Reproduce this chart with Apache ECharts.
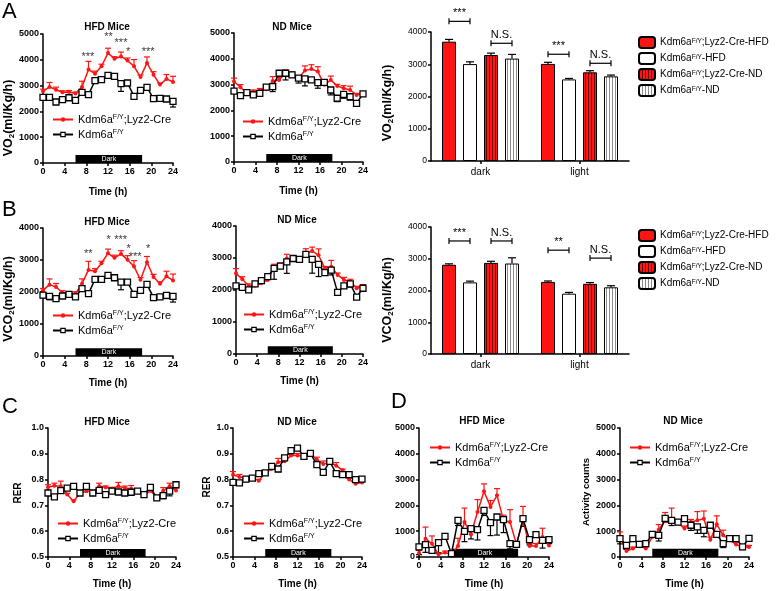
<!DOCTYPE html>
<html><head><meta charset="utf-8">
<script src="https://cdn.jsdelivr.net/npm/echarts@6/dist/echarts.min.js"></script>
<style>html,body{margin:0;padding:0;background:#fff}#c{width:778px;height:591px}</style>
</head><body><div id="c"></div>
<script>
// ---------------- DATA ----------------
const hours = [0,1.2,2.4,3.6,4.8,6,7.2,8.4,9.6,10.8,12,13.2,14.4,15.6,16.8,18,19.2,20.4,21.6,22.8,24];
const darkPeriod = [6, 18.3];
const creName = 'Kdm6aF/Y;Lyz2-Cre';
const ctrlName = 'Kdm6aF/Y';

// A: VO2 HFD
const vo2HfdCre = [2780,2950,2840,2740,2750,2690,2950,3620,3460,3750,4260,4040,4130,3970,3750,3330,3880,3420,3040,3260,3140];
const vo2HfdCreErr = [80,170,100,60,60,60,220,320,100,80,190,80,170,100,260,80,230,120,60,170,220];
const vo2HfdCtrl = [2545,2545,2365,2455,2530,2430,2740,2650,3190,3230,3400,3360,3075,3100,2585,2815,2935,2495,2505,2480,2390];
const vo2HfdCtrlErr = [80,80,60,60,60,60,80,60,60,60,60,60,300,60,60,80,60,60,60,60,220];
const vo2HfdStars = [[8.3,4110,'***'],[12.1,4880,'**'],[14.4,4650,'***'],[15.7,4300,'*'],[19.4,4300,'***']];
// A: VO2 ND
const vo2NdCre = [3120,2900,2660,2730,2790,2820,3140,3180,3470,3420,3250,3545,3600,3505,2990,3180,2950,2860,2790,2600,2660];
const vo2NdCreErr = [130,100,60,60,60,60,170,100,100,80,80,180,170,190,60,150,60,100,150,60,60];
const vo2NdCtrl = [2750,2570,2690,2600,2660,2900,2920,3440,3440,3380,3250,3220,3180,3080,3090,2790,2470,2620,2530,2270,2640];
const vo2NdCtrlErr = [80,60,60,60,60,80,190,60,260,100,190,270,80,220,60,190,130,150,130,100,80];
// B: VCO2 HFD
const vco2HfdCre = [2050,2230,2155,1980,1950,1950,2260,2690,2650,2900,3210,3070,3190,3005,2800,2380,2930,2470,2260,2490,2360];
const vco2HfdCreErr = [60,180,110,60,60,60,150,270,80,60,130,80,100,130,180,70,180,80,60,160,200];
const vco2HfdCtrl = [1900,1865,1795,1875,1925,1845,2105,1950,2395,2395,2520,2445,2310,2310,1925,2050,2240,1825,1845,1895,1865];
const vco2HfdCtrlErr = [80,110,60,60,60,60,60,60,60,60,60,60,240,60,60,60,60,60,60,100,180];
const vco2HfdStars = [[8.35,3190,'**'],[12.1,3625,'*'],[14.35,3625,'***'],[15.8,3345,'*'],[17.0,3095,'***'],[19.4,3345,'*']];
// B: VCO2 ND
const vco2NdCre = [2520,2335,2130,2130,2210,2315,2705,2745,2985,2930,2930,3140,3220,3085,2675,2725,2470,2315,2265,2055,2110];
const vco2NdCreErr = [150,80,60,60,60,60,100,100,130,60,60,150,120,200,60,200,60,80,70,60,60];
const vco2NdCtrl = [2130,2080,2005,2190,2295,2420,2675,2745,2880,2985,2955,3115,2955,2800,2540,2620,1925,2130,2190,1780,2055];
const vco2NdCtrlErr = [60,60,60,60,60,60,340,60,360,60,60,60,430,380,60,150,60,60,100,60,100];
// C: RER HFD
const rerHfdCre = [0.770,0.776,0.774,0.742,0.716,0.748,0.755,0.752,0.774,0.770,0.765,0.774,0.767,0.765,0.751,0.738,0.757,0.731,0.757,0.774,0.758];
const rerHfdCreErr = [0.01,0.01,0.02,0.005,0.005,0.005,0.005,0.005,0.012,0.005,0.005,0.015,0.008,0.012,0.005,0.005,0.005,0.005,0.012,0.012,0.01];
const rerHfdCtrl = [0.748,0.733,0.757,0.767,0.774,0.748,0.774,0.748,0.758,0.742,0.755,0.752,0.748,0.751,0.755,0.742,0.770,0.729,0.738,0.755,0.780];
const rerHfdCtrlErr = [0.008,0.005,0.005,0.005,0.005,0.005,0.005,0.005,0.005,0.005,0.005,0.005,0.005,0.005,0.005,0.005,0.005,0.008,0.012,0.018,0.005];
// C: RER ND
const rerNdCre = [0.819,0.810,0.806,0.806,0.796,0.826,0.841,0.867,0.871,0.893,0.893,0.890,0.900,0.877,0.860,0.867,0.854,0.836,0.800,0.784,0.789];
const rerNdCreErr = [0.012,0.01,0.005,0.005,0.005,0.005,0.008,0.015,0.008,0.005,0.008,0.005,0.005,0.01,0.012,0.005,0.012,0.005,0.005,0.005,0.005];
const rerNdCtrl = [0.789,0.787,0.802,0.806,0.823,0.826,0.851,0.841,0.884,0.912,0.922,0.890,0.902,0.858,0.828,0.871,0.823,0.819,0.819,0.800,0.802];
const rerNdCtrlErr = [0.005,0.005,0.01,0.005,0.008,0.005,0.005,0.01,0.005,0.005,0.005,0.005,0.005,0.008,0.01,0.005,0.005,0.005,0.005,0.005,0.005];
// D: Activity HFD
const actHfdCre = [155,710,515,105,170,105,425,1355,880,1745,2545,1940,2390,1420,1355,490,1420,425,425,775,450];
const actHfdCreErr = [100,450,300,60,60,60,300,540,200,480,290,250,260,200,480,60,540,100,100,340,150];
const actHfdCtrl = [390,480,260,555,800,130,1420,995,1100,1060,1810,1330,1550,1445,515,490,1485,670,865,645,670];
const actHfdCtrlErr = [300,300,120,400,100,60,200,400,400,400,200,500,700,500,200,60,300,200,100,300,150];
// D: Activity ND
const actNdCre = [775,235,325,450,325,775,1060,1395,1445,1320,1100,1355,1420,1485,670,1265,840,670,480,390,390];
const actNdCreErr = [200,60,60,60,60,150,200,330,450,100,100,100,340,300,100,330,200,100,100,60,60];
const actNdCtrl = [710,450,710,490,515,880,840,1500,1420,1355,1485,1230,1165,1035,1230,880,515,710,710,390,725];
const actNdCtrlErr = [200,150,100,100,100,100,220,150,200,100,100,200,250,250,100,100,150,100,100,100,100];

// Bar charts
const barCats = ['dark','light'];
const barNames = ['Kdm6aF/Y;Lyz2-Cre-HFD','Kdm6aF/Y-HFD','Kdm6aF/Y;Lyz2-Cre-ND','Kdm6aF/Y-ND'];
const vo2BarCreHfd = [3700,3010]; const vo2BarCreHfdErr = [70,50];
const vo2BarCtrlHfd = [3005,2530]; const vo2BarCtrlHfdErr = [70,30];
const vo2BarCreNd = [3285,2750]; const vo2BarCreNdErr = [60,50];
const vo2BarCtrlNd = [3175,2625]; const vo2BarCtrlNdErr = [130,40];
const vo2Brackets = [[0,0,1,4330,'***'],[0,2,3,3650,'N.S.'],[1,0,1,3310,'***'],[1,2,3,3030,'N.S.']];
const vco2BarCreHfd = [2810,2270]; const vco2BarCreHfdErr = [30,30];
const vco2BarCtrlHfd = [2255,1900]; const vco2BarCtrlHfdErr = [40,40];
const vco2BarCreNd = [2870,2210]; const vco2BarCreNdErr = [50,40];
const vco2BarCtrlNd = [2850,2100]; const vco2BarCtrlNdErr = [180,50];
const vco2Brackets = [[0,0,1,3560,'***'],[0,2,3,3560,'N.S.'],[1,0,1,3270,'**'],[1,2,3,3020,'N.S.']];

// ---------------- STYLE / LAYOUT ----------------
const FONT = '"Liberation Sans", Arial, Helvetica, sans-serif';
const RED = '#ff1414';
const BAR_W = 14, BAR_STEP = 21;

function stripe(bg, line) {
  const c = document.createElement('canvas');
  c.width = 3; c.height = 4;
  const g = c.getContext('2d');
  g.fillStyle = bg; g.fillRect(0,0,3,4);
  g.fillStyle = line; g.fillRect(0,0,1,4);
  return {image: c, repeat: 'repeat'};
}
function supName(name) {
  const p = name.split('F/Y');
  let s = '{n|' + p[0] + '}{s|F/Y}';
  if (p[1]) s += '{n|' + p[1] + '}';
  return s;
}

const grids = [
  [43,34,130,129],[234,33,129,129],[431,32,198,129],
  [43,228,130,128],[236,226,127,128],[431,227,198,127],
  [48,428,128,129],[233,428,129,129],[419,428,130,129],[620,428,129,129]
];

const lineCharts = [
  {g:0, cre:vo2HfdCre, creErr:vo2HfdCreErr, ctrl:vo2HfdCtrl, ctrlErr:vo2HfdCtrlErr, y:[0,5000,1000], dark:310, leg:[52,114], stars:vo2HfdStars, tg:24},
  {g:1, cre:vo2NdCre, creErr:vo2NdCreErr, ctrl:vo2NdCtrl, ctrlErr:vo2NdCtrlErr, y:[0,5000,1000], dark:310, leg:[242,116], tg:24},
  {g:3, cre:vco2HfdCre, creErr:vco2HfdCreErr, ctrl:vco2HfdCtrl, ctrlErr:vco2HfdCtrlErr, y:[0,4000,1000], dark:240, leg:[52,310], stars:vco2HfdStars, tg:22},
  {g:4, cre:vco2NdCre, creErr:vco2NdCreErr, ctrl:vco2NdCtrl, ctrlErr:vco2NdCtrlErr, y:[0,4000,1000], dark:240, leg:[243,309], tg:22},
  {g:6, cre:rerHfdCre, creErr:rerHfdCreErr, ctrl:rerHfdCtrl, ctrlErr:rerHfdCtrlErr, y:[0.5,1.0,0.1], dark:0.531, leg:[57,518], fmt:1, tg:22},
  {g:7, cre:rerNdCre, creErr:rerNdCreErr, ctrl:rerNdCtrl, ctrlErr:rerNdCtrlErr, y:[0.5,1.0,0.1], dark:0.531, leg:[243,518], fmt:1, tg:22},
  {g:8, cre:actHfdCre, creErr:actHfdCreErr, ctrl:actHfdCtrl, ctrlErr:actHfdCtrlErr, y:[0,5000,1000], dark:320, leg:[429,442], tg:22},
  {g:9, cre:actNdCre, creErr:actNdCreErr, ctrl:actNdCtrl, ctrlErr:actNdCtrlErr, y:[0,5000,1000], dark:320, leg:[629,442], tg:22}
];

const barCharts = [
  {g:2, vals:[vo2BarCreHfd,vo2BarCtrlHfd,vo2BarCreNd,vo2BarCtrlNd], errs:[vo2BarCreHfdErr,vo2BarCtrlHfdErr,vo2BarCreNdErr,vo2BarCtrlNdErr], br:vo2Brackets, legTop:36},
  {g:5, vals:[vco2BarCreHfd,vco2BarCtrlHfd,vco2BarCreNd,vco2BarCtrlNd], errs:[vco2BarCreHfdErr,vco2BarCtrlHfdErr,vco2BarCreNdErr,vco2BarCtrlNdErr], br:vco2Brackets, legTop:229}
];

const barStyles = [
  {color: RED},
  {color: '#ffffff'},
  {color: stripe(RED, '#6e0000')},
  {color: stripe('#ffffff', '#8c8c8c')}
];

const axisLine = {show:true, onZero:false, lineStyle:{color:'#000', width:1.5}};
const axisTick = {show:true, inside:false, length:3, lineStyle:{color:'#000', width:1.5}};

const xAxis = [], yAxis = [], series = [], legend = [];

function errSeries(g, vals, errs, dir, color) {
  return {
    type:'custom', xAxisIndex:g, yAxisIndex:g, silent:true, z:2,
    data: hours.map((h,i)=>[h, vals[i], errs[i]]),
    encode:{x:0, y:1},
    renderItem:(params, api)=>{
      const x = api.value(0), y = api.value(1), e = api.value(2);
      const p0 = api.coord([x,y]), p1 = api.coord([x, y + dir*e]);
      const st = {stroke:color, lineWidth:1.2};
      return {type:'group', children:[
        {type:'line', shape:{x1:p0[0],y1:p0[1],x2:p1[0],y2:p1[1]}, style:st},
        {type:'line', shape:{x1:p1[0]-3,y1:p1[1],x2:p1[0]+3,y2:p1[1]}, style:st}
      ]};
    }
  };
}

lineCharts.forEach(c => {
  xAxis.push({
    type:'value', gridIndex:c.g, min:0, max:24, interval:4,
    axisLine, axisTick, splitLine:{show:false},
    axisLabel:{fontSize:9, fontWeight:'bold', color:'#000', margin:4, fontFamily:FONT},
    name:'Time (h)', nameLocation:'middle', nameGap:c.tg,
    nameTextStyle:{fontSize:10, fontWeight:'bold', color:'#000', fontFamily:FONT}
  });
  yAxis.push({
    type:'value', gridIndex:c.g, min:c.y[0], max:c.y[1], interval:c.y[2],
    axisLine, axisTick, splitLine:{show:false},
    axisLabel:{fontSize:9, fontWeight:'bold', color:'#000', margin:4, fontFamily:FONT,
      formatter: c.fmt ? (v => v.toFixed(1)) : (v => String(v))}
  });
  const gi = xAxis.length - 1;
  series.push(errSeries(gi, c.cre, c.creErr, 1, RED));
  series.push(errSeries(gi, c.ctrl, c.ctrlErr, -1, '#000'));
  series.push({
    type:'line', name:creName, xAxisIndex:gi, yAxisIndex:gi, z:3, silent:true,
    data: hours.map((h,i)=>[h, c.cre[i]]),
    symbol:'circle', symbolSize:4, showAllSymbol:true,
    lineStyle:{color:RED, width:1.5}, itemStyle:{color:RED},
    markArea:{silent:true, itemStyle:{color:'#000', opacity:1},
      label:{show:true, position:'inside', color:'#fff', fontSize:7, fontFamily:FONT},
      data:[[{name:'Dark', xAxis:darkPeriod[0], yAxis:c.y[0]}, {xAxis:darkPeriod[1], yAxis:c.dark}]]}
  });
  series.push({
    type:'line', name:ctrlName, xAxisIndex:gi, yAxisIndex:gi, z:4, silent:true,
    data: hours.map((h,i)=>[h, c.ctrl[i]]),
    symbol:'rect', symbolSize:6, showAllSymbol:true,
    lineStyle:{color:'#000', width:1.5}, itemStyle:{color:'#fff', borderColor:'#000', borderWidth:1.3}
  });
  if (c.stars) {
    series.push({
      type:'scatter', xAxisIndex:gi, yAxisIndex:gi, silent:true, z:5,
      symbol:'circle', symbolSize:1, itemStyle:{color:'rgba(0,0,0,0)'},
      data: c.stars.map(s => ({value:[s[0], s[1]], name:s[2]})),
      label:{show:true, position:'inside', formatter:'{b}', fontSize:11, color:'#000', fontFamily:FONT}
    });
  }
  legend.push({
    data:[creName, ctrlName], left:c.leg[0], top:c.leg[1], orient:'vertical',
    itemWidth:20, itemHeight:5.5, itemGap:4, selectedMode:false, padding:0,
    itemStyle:{borderWidth:1.2},
    formatter: supName,
    textStyle:{fontSize:11, color:'#000', fontFamily:FONT,
      rich:{n:{fontSize:11, color:'#000', fontFamily:FONT}, s:{fontSize:7, color:'#000', fontFamily:FONT, verticalAlign:'top'}}}
  });
});

barCharts.forEach(c => {
  xAxis.push({
    type:'category', gridIndex:c.g, data:barCats,
    axisLine, axisTick:{show:true, alignWithLabel:true, length:3, lineStyle:{color:'#000', width:1.5}},
    axisLabel:{fontSize:10, color:'#000', margin:6, fontFamily:FONT}, splitLine:{show:false}
  });
  yAxis.push({
    type:'value', gridIndex:c.g, min:0, max:4000, interval:1000,
    axisLine, axisTick, splitLine:{show:false},
    axisLabel:{fontSize:8.5, color:'#000', margin:4, fontFamily:FONT, formatter: v => String(v)}
  });
  const gi = xAxis.length - 1;
  c.vals.forEach((v, i) => {
    series.push({
      type:'bar', name:barNames[i], xAxisIndex:gi, yAxisIndex:gi, silent:true,
      data:v, barWidth:BAR_W, barGap:'50%',
      itemStyle:Object.assign({borderColor:'#000', borderWidth:1}, barStyles[i])
    });
  });
  const errData = [];
  c.vals.forEach((v, i) => v.forEach((val, k) => errData.push([k, val, c.errs[i][k], i])));
  series.push({
    type:'custom', xAxisIndex:gi, yAxisIndex:gi, silent:true, z:3,
    data:errData, encode:{x:0, y:1},
    renderItem:(params, api)=>{
      const k = api.value(0), val = api.value(1), e = api.value(2), i = api.value(3);
      const p0 = api.coord([k, val]), p1 = api.coord([k, val + e]);
      const x = p0[0] + (i - 1.5) * BAR_STEP;
      const st = {stroke:'#000', lineWidth:1.2};
      return {type:'group', children:[
        {type:'line', shape:{x1:x,y1:p0[1],x2:x,y2:p1[1]}, style:st},
        {type:'line', shape:{x1:x-4,y1:p1[1],x2:x+4,y2:p1[1]}, style:st}
      ]};
    }
  });
  const br = c.br;
  series.push({
    type:'custom', xAxisIndex:gi, yAxisIndex:gi, silent:true, z:3,
    data: br.map(b => [b[0], b[3]]), encode:{x:0, y:1},
    renderItem:(params, api)=>{
      const b = br[params.dataIndex];
      const p = api.coord([b[0], b[3]]);
      const x1 = p[0] + (b[1] - 1.5) * BAR_STEP, x2 = p[0] + (b[2] - 1.5) * BAR_STEP, y = p[1];
      const st = {stroke:'#000', lineWidth:1.2};
      return {type:'group', children:[
        {type:'line', shape:{x1:x1,y1:y,x2:x2,y2:y}, style:st},
        {type:'line', shape:{x1:x1,y1:y-3,x2:x1,y2:y+3}, style:st},
        {type:'line', shape:{x1:x2,y1:y-3,x2:x2,y2:y+3}, style:st},
        {type:'text', style:{x:(x1+x2)/2, y:y-3, text:b[4], align:'center', verticalAlign:'bottom',
          fontSize:11, fontFamily:FONT, fill:'#000'}}
      ]};
    }
  });
  legend.push({
    data:barNames, left:638, top:c.legTop, orient:'vertical',
    itemWidth:16, itemHeight:11, itemGap:3, selectedMode:false, padding:0,
    formatter: supName,
    textStyle:{fontSize:10, color:'#000', fontFamily:FONT,
      rich:{n:{fontSize:10, color:'#000', fontFamily:FONT}, s:{fontSize:6.5, color:'#000', fontFamily:FONT, verticalAlign:'top'}}}
  });
});

function txt(x, y, text, size, weight, align, va) {
  return {type:'text', x:x, y:y, silent:true,
    style:{text:text, fontSize:size, fontWeight:weight, fontFamily:FONT, fill:'#000', align:align, verticalAlign:va}};
}
function vtxt(x, y, text, size) {
  return {type:'text', x:x, y:y, rotation:Math.PI/2, silent:true,
    style:{text:text, fontSize:size, fontWeight:'bold', fontFamily:FONT, fill:'#000', align:'center', verticalAlign:'middle',
      rich:{b:{fontSize:Math.round(size*0.62), fontWeight:'bold', fontFamily:FONT, fill:'#000', verticalAlign:'bottom'}}}};
}
const vo2Name = 'VO{b|2}(ml/Kg/h)';
const vco2Name = 'VCO{b|2}(ml/Kg/h)';
const graphic = [
  txt(2,1,'A',22,'normal','left','top'),
  txt(2,199,'B',22,'normal','left','top'),
  txt(2,396,'C',22,'normal','left','top'),
  txt(391,391,'D',22,'normal','left','top'),
  txt(107,27,'HFD Mice',10,'bold','center','middle'),
  txt(292,27,'ND Mice',10,'bold','center','middle'),
  txt(107,222,'HFD Mice',10,'bold','center','middle'),
  txt(297,220,'ND Mice',10,'bold','center','middle'),
  txt(107,422,'HFD Mice',10,'bold','center','middle'),
  txt(297,422,'ND Mice',10,'bold','center','middle'),
  txt(482,421,'HFD Mice',10,'bold','center','middle'),
  txt(683,421,'ND Mice',10,'bold','center','middle'),
  vtxt(9,118,vo2Name,12.5),
  vtxt(9,299,vco2Name,12.5),
  vtxt(388,103,vo2Name,12.5),
  vtxt(388,300,vco2Name,12.5),
  vtxt(18,493,'RER',10),
  vtxt(207,487,'RER',10),
  vtxt(586,492,'Activity counts',9.5)
];

const chart = echarts.init(document.getElementById('c'), null, {renderer:'canvas'});
chart.setOption({
  animation:false,
  backgroundColor:'#fff',
  textStyle:{fontFamily:FONT},
  tooltip:{show:false},
  grid: grids.map(g => ({left:g[0], top:g[1], width:g[2], height:g[3]})),
  xAxis, yAxis, series, legend, graphic
});
</script>
</body></html>
